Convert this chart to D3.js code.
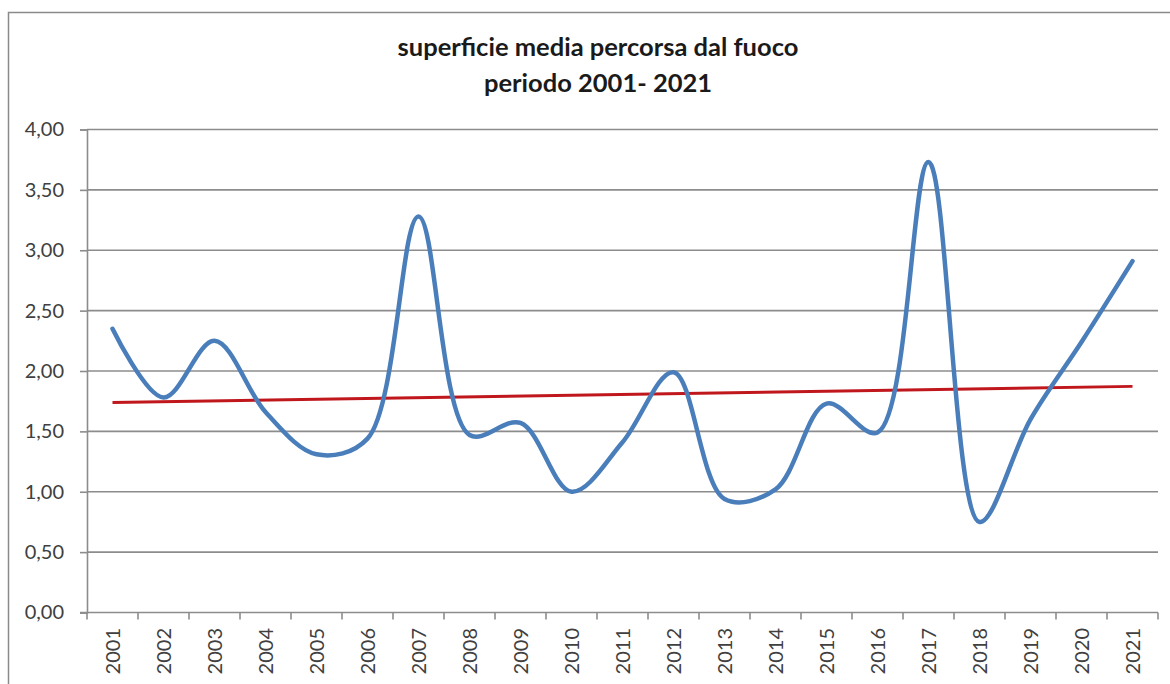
<!DOCTYPE html>
<html>
<head>
<meta charset="utf-8">
<script src="https://cdn.jsdelivr.net/npm/d3@7"></script>
<style>
  html, body { margin: 0; padding: 0; background: #ffffff; }
  svg { display: block; }
</style>
</head>
<body>
<svg id="chart" width="1170" height="684"></svg>
<script>
// ---- data ----
const years = ["2001","2002","2003","2004","2005","2006","2007","2008","2009","2010","2011",
               "2012","2013","2014","2015","2016","2017","2018","2019","2020","2021"];
const values = [2.35, 1.78, 2.25, 1.66, 1.31, 1.44, 3.28, 1.47, 1.57, 1.00, 1.41,
                1.99, 0.94, 1.02, 1.73, 1.49, 3.73, 0.75, 1.60, 2.24, 2.91];
const yTicks = [0, 0.5, 1, 1.5, 2, 2.5, 3, 3.5, 4];
const titleLines = ["superficie media percorsa dal fuoco", "periodo 2001- 2021"];

// ---- layout ----
const W = 1170, H = 684;
const plot = { left: 87, right: 1158, top: 129.5, bottom: 612.5 };
const FONT = "Lato, 'Liberation Sans', Arial, sans-serif";
const grid = "#8c8c8c";
const textCol = "#404040";

const svg = d3.select("#chart");

// outer chart border
svg.append("rect")
  .attr("x", 8.5).attr("y", 12.5)
  .attr("width", W + 20).attr("height", H + 20)
  .attr("fill", "#ffffff").attr("stroke", "#8a8a8a").attr("stroke-width", 1.5);

const x = d3.scaleBand().domain(years).range([plot.left, plot.right]).padding(0);
const y = d3.scaleLinear().domain([0, 4]).range([plot.bottom, plot.top]);

// gridlines
svg.append("g").selectAll("line").data(yTicks.filter(d => d > 0)).join("line")
  .attr("x1", plot.left).attr("x2", plot.right)
  .attr("y1", d => y(d)).attr("y2", d => y(d))
  .attr("stroke", grid).attr("stroke-width", 1.6);

// y axis
const yAxis = d3.axisLeft(y).tickValues(yTicks).tickSize(7).tickPadding(16)
  .tickFormat(d => d3.format(".2f")(d).replace(".", ","));
const gy = svg.append("g").attr("transform", `translate(${plot.left},0)`).call(yAxis);
gy.select(".domain").attr("stroke", grid).attr("stroke-width", 1.6);
gy.selectAll(".tick line").attr("stroke", grid).attr("stroke-width", 1.6);
gy.selectAll(".tick text")
  .attr("font-family", FONT).attr("font-size", 20).attr("fill", textCol);

// x axis line
svg.append("line")
  .attr("x1", plot.left - 7).attr("x2", plot.right)
  .attr("y1", y(0)).attr("y2", y(0))
  .attr("stroke", grid).attr("stroke-width", 1.6);

// x ticks at category boundaries
const boundaries = years.map(d => x(d)).concat([x(years[years.length - 1]) + x.bandwidth()]);
svg.append("g").selectAll("line").data(boundaries).join("line")
  .attr("x1", d => d).attr("x2", d => d)
  .attr("y1", y(0)).attr("y2", y(0) + 7)
  .attr("stroke", grid).attr("stroke-width", 1.6);

// x labels (rotated)
svg.append("g").selectAll("text").data(years).join("text")
  .attr("transform", d => `translate(${x(d) + x.bandwidth() / 2},628) rotate(-90)`)
  .attr("text-anchor", "end").attr("dy", "0.36em")
  .attr("font-family", FONT).attr("font-size", 20).attr("fill", textCol)
  .text(d => d);

// trend line (linear regression of the series)
const n = values.length;
const idx = d3.range(n);
const mx = d3.mean(idx), my = d3.mean(values);
const slope = d3.sum(idx, i => (i - mx) * (values[i] - my)) / d3.sum(idx, i => (i - mx) ** 2);
const icpt = my - slope * mx;
const cx = i => x(years[i]) + x.bandwidth() / 2;
svg.append("line")
  .attr("x1", cx(0)).attr("y1", y(icpt))
  .attr("x2", cx(n - 1)).attr("y2", y(icpt + slope * (n - 1)))
  .attr("stroke", "#c0171d").attr("stroke-width", 2.8);

// smoothed series line
const line = d3.line()
  .x((d, i) => cx(i))
  .y(d => y(d))
  .curve(d3.curveCatmullRom.alpha(0.5));
svg.append("path").datum(values)
  .attr("d", line)
  .attr("fill", "none").attr("stroke", "#4a7ebb").attr("stroke-width", 4.5)
  .attr("stroke-linecap", "round").attr("stroke-linejoin", "round");

// title
svg.append("g").selectAll("text").data(titleLines).join("text")
  .attr("x", 598).attr("y", (d, i) => 56 + i * 36)
  .attr("text-anchor", "middle")
  .attr("font-family", FONT).attr("font-weight", "bold").attr("font-size", 25.5)
  .attr("fill", "#1a1a1a")
  .text(d => d);
</script>
</body>
</html>
